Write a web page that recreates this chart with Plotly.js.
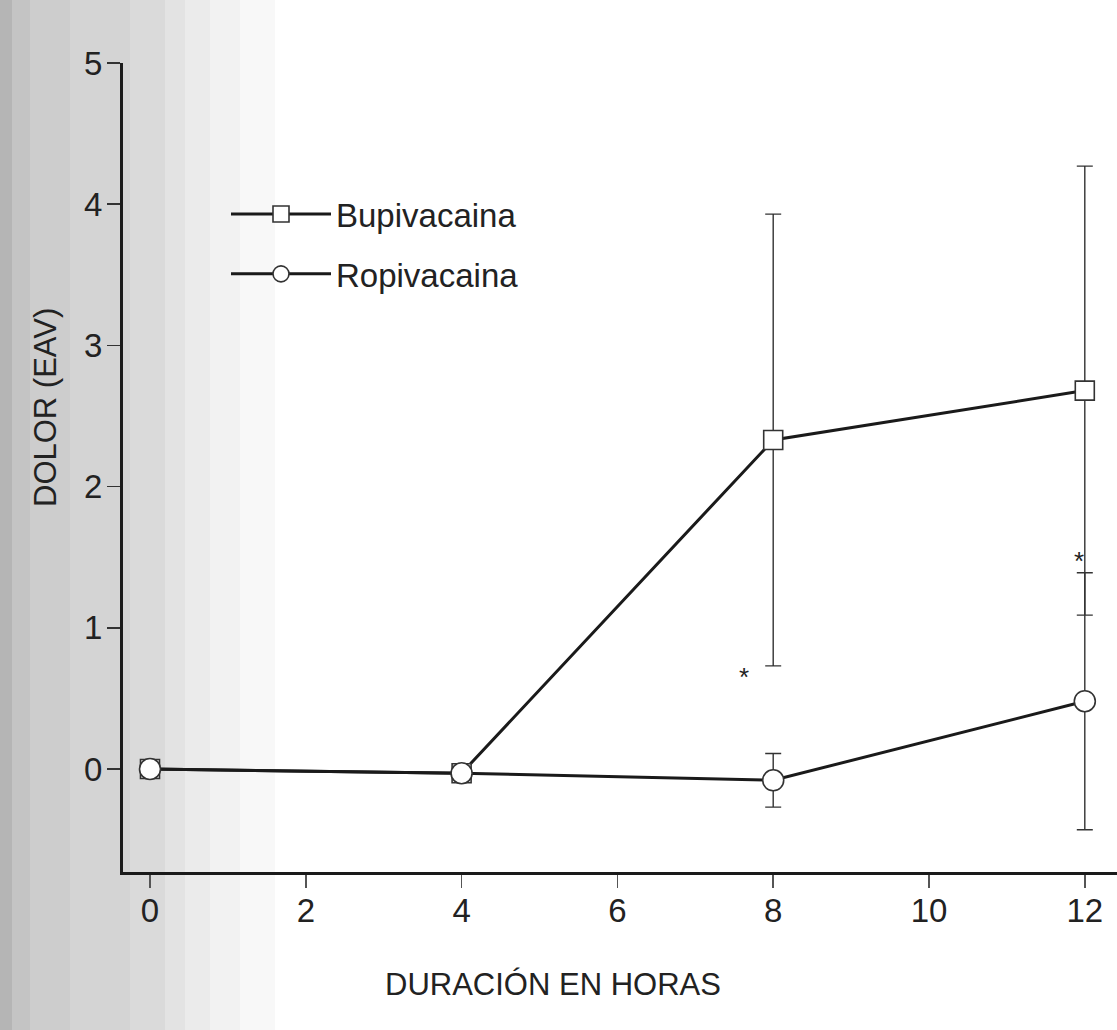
<!DOCTYPE html>
<html>
<head>
<meta charset="utf-8">
<script src="https://cdn.plot.ly/plotly-3.0.1.min.js"></script>
<style>
  html, body { margin: 0; padding: 0; background: #ffffff; }
  #chart { width: 1117px; height: 1030px; }
</style>
</head>
<body>
<div id="chart"></div>
<script>
// ---- Data ----
const hours = [0, 4, 8, 12];
const bupivacaina = [0, -0.03, 2.33, 2.68];
const bupivacainaErr = [0, 0, 1.6, 1.59];
const ropivacaina = [0, -0.03, -0.08, 0.48];
const ropivacainaErr = [0, 0, 0.19, 0.91];
const xTicks = [0, 2, 4, 6, 8, 10, 12];
const yTicks = [0, 1, 2, 3, 4, 5];
const seriesNames = ["Bupivacaina", "Ropivacaina"];
const asteriskX = [7.63, 11.93];
const asteriskY = [0.68, 1.5];

// ---- Layout geometry ----
const W = 1117, H = 1030;
const M = { l: 123, r: 0, t: 63, b: 158 };
const plotW = W - M.l - M.r, plotH = H - M.t - M.b;
const px2paperX = px => (px - M.l) / plotW;
const py2paperY = py => (H - M.b - py) / plotH;

const FONT = "Liberation Sans, Arial, sans-serif";
const INK = "#1a1a1a";

const traces = [
  {
    x: hours, y: bupivacaina, name: seriesNames[0], legendgroup: "a",
    type: "scatter", mode: "lines+markers",
    line: { color: INK, width: 3 },
    marker: { symbol: "square", size: 19, color: "#ffffff", line: { color: "#333333", width: 1.6 } },
    error_y: { type: "data", array: bupivacainaErr, visible: true, color: "#333333", thickness: 1.4, width: 8 }
  },
  {
    x: hours, y: ropivacaina, name: seriesNames[1], legendgroup: "b",
    type: "scatter", mode: "lines+markers",
    line: { color: INK, width: 3 },
    marker: { symbol: "circle", size: 21, color: "#ffffff", line: { color: "#333333", width: 1.6 } },
    error_y: { type: "data", array: ropivacainaErr, visible: true, color: "#333333", thickness: 1.4, width: 8 }
  }
];

// scanned-paper grey band on the left (stepped gradient)
const bands = [
  [0, 12, "#b5b5b5"], [12, 30, "#c4c4c4"], [30, 70, "#cdcdcd"], [70, 130, "#d4d4d4"],
  [130, 165, "#dadada"], [165, 185, "#e3e3e3"], [185, 210, "#ebebeb"],
  [210, 240, "#f2f2f2"], [240, 275, "#f8f8f8"]
];
const shapes = bands.map(b => ({
  type: "rect", xref: "paper", yref: "paper", layer: "below",
  x0: px2paperX(b[0]), x1: px2paperX(b[1]),
  y0: py2paperY(H), y1: py2paperY(0),
  fillcolor: b[2], line: { width: 0 }
}));

const annotations = asteriskX.map((x, i) => ({
  x: x, y: asteriskY[i], xref: "x", yref: "y", text: "*", showarrow: false,
  font: { family: FONT, size: 26, color: "#222" }, yshift: -4
}));
annotations.push({
  text: "DURACIÓN EN HORAS", xref: "paper", yref: "paper",
  x: px2paperX(553), y: py2paperY(985), xanchor: "center", yanchor: "middle", showarrow: false,
  font: { family: FONT, size: 31, color: "#222" }
});
annotations.push({
  text: "DOLOR (EAV)", xref: "paper", yref: "paper", textangle: -90,
  x: px2paperX(45), y: py2paperY(408), xanchor: "center", yanchor: "middle", showarrow: false,
  font: { family: FONT, size: 31, color: "#222" }
});

const layout = {
  width: W, height: H,
  margin: M,
  paper_bgcolor: "#ffffff",
  plot_bgcolor: "rgba(0,0,0,0)",
  font: { family: FONT, color: "#222" },
  showlegend: true,
  legend: {
    x: px2paperX(226), y: py2paperY(186), xanchor: "left", yanchor: "top",
    bgcolor: "rgba(0,0,0,0)", borderwidth: 0,
    font: { family: FONT, size: 33, color: "#222" },
    itemwidth: 100, traceorder: "grouped", tracegroupgap: 14
  },
  xaxis: {
    range: [(M.l - 150) / 77.9, (W - 150) / 77.9],
    tickmode: "array", tickvals: xTicks, ticktext: xTicks.map(String),
    ticks: "outside", ticklen: 13, tickwidth: 1.5, tickcolor: "#555",
    ticklabelstandoff: -6,
    showline: true, linecolor: INK, linewidth: 3,
    showgrid: false, zeroline: false,
    tickfont: { family: FONT, size: 33, color: "#222" }
  },
  yaxis: {
    range: [5 - plotH / 141.2, 5],
    tickmode: "array", tickvals: yTicks, ticktext: yTicks.map(String),
    ticks: "outside", ticklen: 13, tickwidth: 1.5, tickcolor: "#333",
    ticklabelstandoff: -2,
    showline: true, linecolor: INK, linewidth: 3,
    showgrid: false, zeroline: false,
    tickfont: { family: FONT, size: 33, color: "#222" }
  },
  shapes: shapes,
  annotations: annotations
};

Plotly.newPlot("chart", traces, layout, { displayModeBar: false, staticPlot: true });
</script>
</body>
</html>
